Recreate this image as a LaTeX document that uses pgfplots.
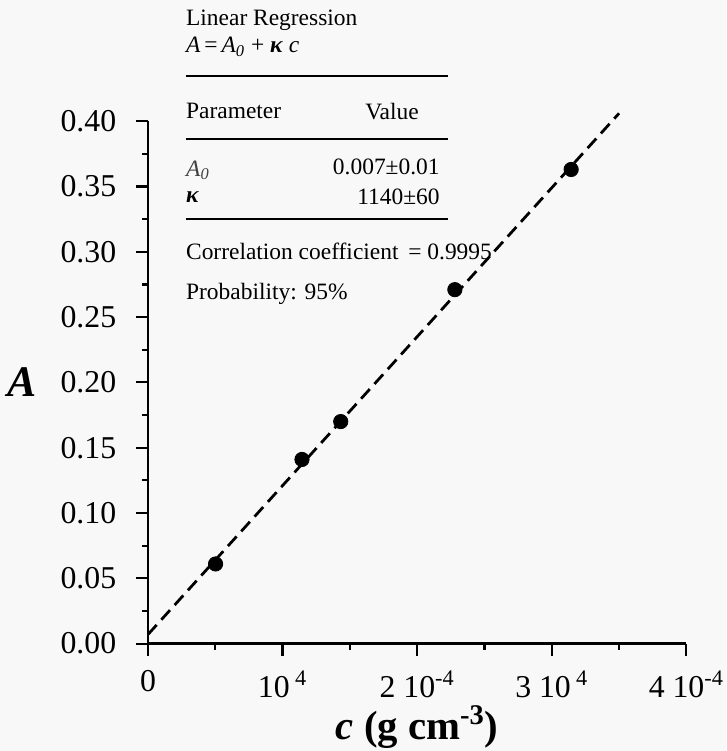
\documentclass[border=0pt]{standalone}
\usepackage{fontspec}
\setmainfont{Liberation Serif}
\usepackage{pgfplots}
\pgfplotsset{compat=1.18}
\usetikzlibrary{backgrounds}
\definecolor{bgc}{RGB}{248,248,248}

\newcommand{\leg}{\fontsize{11.8}{13}\selectfont}

\begin{document}
\begin{tikzpicture}
\begin{axis}[
  anchor=origin, at={(0,0)},
  scale only axis,
  width=271pt, height=263pt,
  axis lines=left,
  axis line style={line width=1.2pt, -},
  xmin=0, xmax=4e-4,
  ymin=0, ymax=0.40,
  clip=false,
  scaled x ticks=false, scaled y ticks=false,
  xtick={0,1e-4,2e-4,3e-4,4e-4},
  xticklabels={0, 10\,\textsuperscript{4}, 2 10\textsuperscript{-4}, 3 10\,\textsuperscript{4}, 4 10\textsuperscript{-4}},
  minor x tick num=1,
  ytick={0,0.05,...,0.40},
  minor y tick num=1,
  tick align=outside,
  major tick length=6pt,
  minor tick length=3pt,
  tick style={line width=1.1pt, black},
  /pgf/number format/assume math mode=true,
  /pgf/number format/fixed,
  /pgf/number format/fixed zerofill,
  /pgf/number format/precision=2,
  tick label style={font=\fontsize{16}{18}\selectfont},
  yticklabel style={xshift=-6.5pt},
  xticklabel style={yshift=-4pt},
]
% regression line
\addplot[black, line width=1.4pt, dash pattern=on 6.5pt off 3.5pt]
  coordinates {(0,0.007) (3.5e-4,0.406)};
% measured points
\addplot[only marks, mark=*, mark size=3.6pt, black]
  coordinates {(0.502e-4,0.061) (1.144e-4,0.141) (1.432e-4,0.170) (2.28e-4,0.271) (3.144e-4,0.363)};

% axis labels
\node[font=\fontsize{22}{24}\selectfont\bfseries] at (rel axis cs:-0.234,0.5) {\textit{A}};
\node[font=\fontsize{20.5}{23}\selectfont\bfseries, inner sep=0pt] at (rel axis cs:0.5,-0.159) {\textit{c} (g cm\textsuperscript{-3})};

% regression box
\node[anchor=west, font=\leg, inner sep=0pt] at (rel axis cs:0.0701,1.194) {Linear Regression};
\node[anchor=west, font=\leg, inner sep=0pt] at (rel axis cs:0.0701,1.1426) {\textit{A}\,=\,\textit{A}\textsubscript{\textit{0}} + \textbf{\textit{κ}} \textit{c}};
\draw[line width=1pt] (rel axis cs:0.0701,1.0856) -- (rel axis cs:0.557,1.0856);
\node[anchor=west, font=\leg, inner sep=0pt] at (rel axis cs:0.0701,1.019) {Parameter};
\node[anchor=east, font=\leg, inner sep=0pt] at (rel axis cs:0.5037,1.019) {Value};
\draw[line width=1pt] (rel axis cs:0.0701,0.9658) -- (rel axis cs:0.557,0.9658);
\node[anchor=west, font=\leg, inner sep=0pt, text=black!75] at (rel axis cs:0.0701,0.906) {\textit{A}\textsubscript{\textit{0}}};
\node[anchor=east, font=\leg, inner sep=0pt] at (rel axis cs:0.5424,0.9125) {0.007±0.01};
\node[anchor=west, font=\leg, inner sep=0pt] at (rel axis cs:0.0701,0.8555) {\textbf{\textit{κ}}};
\node[anchor=east, font=\leg, inner sep=0pt] at (rel axis cs:0.5424,0.8555) {1140±60};
\draw[line width=1pt] (rel axis cs:0.0701,0.8118) -- (rel axis cs:0.557,0.8118);
\node[anchor=west, font=\leg, inner sep=0pt] at (rel axis cs:0.0701,0.751) {Correlation coefficient \,= 0.9995};
\node[anchor=west, font=\leg, inner sep=0pt] at (rel axis cs:0.0701,0.669) {Probability: 95\%};

\coordinate (bbsw) at (rel axis cs:-0.2749,-0.2055);
\coordinate (bbne) at (rel axis cs:1.0738,1.2319);
\end{axis}
\pgfresetboundingbox
\path (bbsw) rectangle (bbne);
\begin{pgfonlayer}{background}
\fill[bgc] (bbsw) rectangle (bbne);
\end{pgfonlayer}
\end{tikzpicture}
\end{document}
